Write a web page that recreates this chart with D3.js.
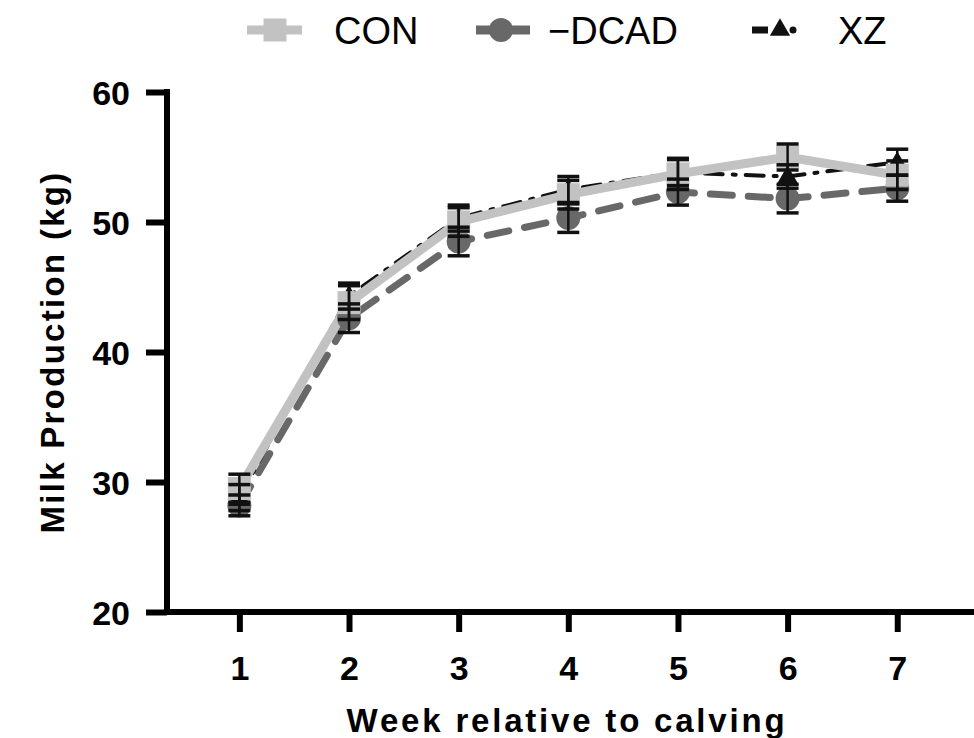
<!DOCTYPE html>
<html><head><meta charset="utf-8">
<script src="https://cdn.jsdelivr.net/npm/d3@7"></script>
<style>body{margin:0;background:#fff}svg{display:block}text{font-family:"Liberation Sans",Arial,sans-serif}</style>
</head><body><svg id="c" width="974" height="738"></svg>
<script>
const weeks = [1,2,3,4,5,6,7];
const conVals  = [29.5, 43.8, 50.0, 52.1, 53.7, 55.0, 53.6];
const dcadVals = [28.2, 42.6, 48.5, 50.3, 52.3, 51.8, 52.6];
const xzVals   = [28.8, 44.3, 50.3, 52.5, 53.8, 53.5, 54.6];
const conSE  = [1.1, 1.3, 1.1, 1.1, 1.2, 1.0, 1.1];
const dcadSE = [0.8, 1.1, 1.1, 1.1, 1.0, 1.1, 1.0];
const xzSE   = [1.0, 1.0, 1.0, 1.0, 1.0, 0.9, 1.0];
const yTicks = [20,30,40,50,60];
const seriesNames = ["CON","\u2212DCAD","XZ"];

const svg = d3.select("#c");
const x = d3.scaleLinear().domain([0.34, 7.7]).range([167, 974]);
const y = d3.scaleLinear().domain([20, 60]).range([612, 92]);

const series = [
  {name: seriesNames[1], vals: dcadVals, se: dcadSE, color:"#686868", width:7, dash:"22,16", cap:"round", marker:"circle"},
  {name: seriesNames[2], vals: xzVals, se: xzSE, color:"#111", width:4, dash:"18,10,3,10", cap:"round", marker:"triangle"},
  {name: seriesNames[0], vals: conVals, se: conSE, color:"#c2c2c2", width:9, dash:null, cap:"butt", marker:"square"}
];

const line = d3.line().x((d,i)=>x(weeks[i])).y(d=>y(d));
const g = svg.append("g");
series.forEach(s=>{
  g.append("path").attr("d", line(s.vals)).attr("fill","none")
   .attr("stroke", s.color).attr("stroke-width", s.width)
   .attr("stroke-dasharray", s.dash).attr("stroke-linecap", s.cap);
});
function marker(sel, type, cx, cy, color, scale){
  scale = scale||1;
  if(type==="square") sel.append("rect").attr("x",cx-11.5*scale).attr("y",cy-11.5*scale).attr("width",23*scale).attr("height",23*scale).attr("fill",color);
  else if(type==="circle") sel.append("circle").attr("cx",cx).attr("cy",cy).attr("r",12*scale).attr("fill",color);
  else sel.append("path").attr("d",d3.symbol(d3.symbolTriangle, 220*scale*scale)()).attr("transform",`translate(${cx},${cy+2})`).attr("fill",color);
}
series.forEach(s=>{
  s.vals.forEach((v,i)=>marker(g, s.marker, x(weeks[i]), y(v), s.color));
});
// error bars
series.forEach(s=>{
  s.vals.forEach((v,i)=>{
    const cx = x(weeks[i]);
    const hi = y(v + s.se[i]), lo = y(v - s.se[i]);
    g.append("line").attr("x1",cx).attr("x2",cx).attr("y1",hi).attr("y2",lo).attr("stroke","#111").attr("stroke-width",2.5);
    [hi,lo].forEach(yy=>g.append("line").attr("x1",cx-11).attr("x2",cx+11).attr("y1",yy).attr("y2",yy).attr("stroke","#111").attr("stroke-width",3.5));
  });
});

// axes
const yAxis = svg.append("g").attr("transform","translate(167,0)")
  .call(d3.axisLeft(y).tickValues(yTicks).tickSize(21).tickPadding(16).tickFormat(d3.format("d")));
const xAxis = svg.append("g").attr("transform","translate(0,612)")
  .call(d3.axisBottom(x).tickValues(weeks).tickSize(20).tickPadding(24).tickFormat(d3.format("d")));
[yAxis,xAxis].forEach(a=>{
  a.select(".domain").attr("stroke","#000").attr("stroke-width",6);
  a.selectAll(".tick line").attr("stroke","#000").attr("stroke-width",6);
  a.selectAll(".tick text").attr("fill","#000").style("font-size","34px").style("font-weight","bold");
});
xAxis.select(".domain").attr("d","M164,0H974");
yAxis.select(".domain").attr("d","M0,89V615");
yAxis.selectAll(".tick text").attr("dy","0.36em");

svg.append("text").attr("x",567).attr("y",732).attr("text-anchor","middle")
  .style("font-size","33px").style("font-weight","bold").style("letter-spacing","2.8px").text("Week relative to calving");
svg.append("text").attr("transform","translate(64,352) rotate(-90)").attr("text-anchor","middle")
  .style("font-size","33px").style("font-weight","bold").style("letter-spacing","2.3px").text("Milk Production (kg)");

// legend
const leg = svg.append("g");
const ly = 30;
// CON
leg.append("line").attr("x1",247).attr("x2",302).attr("y1",ly).attr("y2",ly).attr("stroke","#c2c2c2").attr("stroke-width",9);
marker(leg,"square",275,ly,"#c2c2c2",1.0);
leg.append("text").attr("x",334).attr("y",ly+14).style("font-size","38px").text(seriesNames[0]);
// DCAD
leg.append("line").attr("x1",476).attr("x2",530).attr("y1",ly).attr("y2",ly).attr("stroke","#686868").attr("stroke-width",9);
marker(leg,"circle",501,ly,"#686868",1.0);
leg.append("text").attr("x",548).attr("y",ly+14).style("font-size","38px").text(seriesNames[1]);
// XZ
leg.append("line").attr("x1",752).attr("x2",768).attr("y1",ly).attr("y2",ly).attr("stroke","#111").attr("stroke-width",7);
marker(leg,"triangle",780,ly-2,"#111",0.9);
leg.append("circle").attr("cx",793).attr("cy",ly).attr("r",3.5).attr("fill","#111");
leg.append("text").attr("x",838).attr("y",ly+14).style("font-size","38px").text(seriesNames[2]);
</script></body></html>
